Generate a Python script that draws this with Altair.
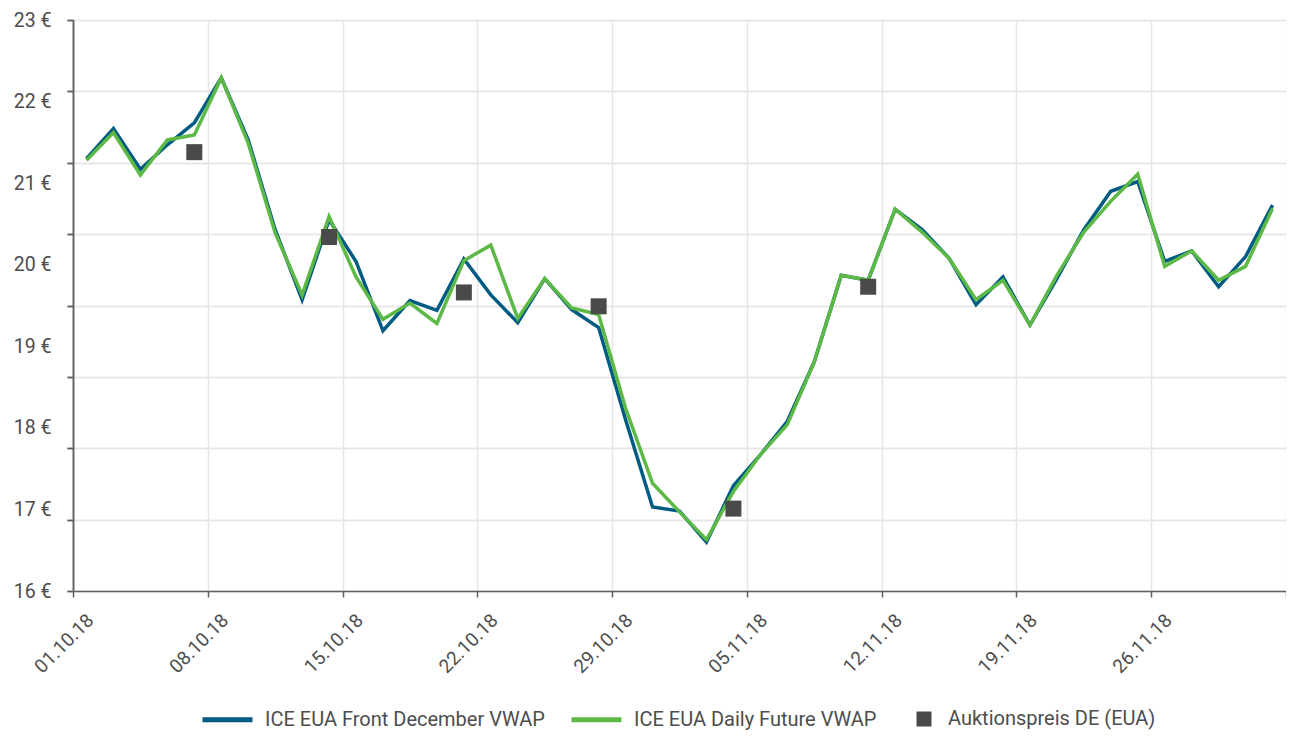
import altair as alt
import pandas as pd

# trading days (x categories)
dates = [
    "01.10.18", "02.10.18", "03.10.18", "04.10.18", "05.10.18",
    "08.10.18", "09.10.18", "10.10.18", "11.10.18", "12.10.18",
    "15.10.18", "16.10.18", "17.10.18", "18.10.18", "19.10.18",
    "22.10.18", "23.10.18", "24.10.18", "25.10.18", "26.10.18",
    "29.10.18", "30.10.18", "31.10.18", "01.11.18", "02.11.18",
    "05.11.18", "06.11.18", "07.11.18", "08.11.18", "09.11.18",
    "12.11.18", "13.11.18", "14.11.18", "15.11.18", "16.11.18",
    "19.11.18", "20.11.18", "21.11.18", "22.11.18", "23.11.18",
    "26.11.18", "27.11.18", "28.11.18", "29.11.18", "30.11.18",
]

front_december = [
    21.30, 21.67, 21.17, 21.47, 21.74, 22.29, 21.53, 20.43, 19.57, 20.55,
    20.04, 19.19, 19.56, 19.44, 20.07, 19.63, 19.29, 19.83, 19.45, 19.23,
    18.10, 17.03, 16.98, 16.60, 17.29, 17.67, 18.08, 18.81, 19.87, 19.81,
    20.68, 20.43, 20.08, 19.51, 19.85, 19.26, 19.83, 20.43, 20.90, 21.02,
    20.04, 20.17, 19.73, 20.10, 20.73,
]

daily_future = [
    21.28, 21.62, 21.10, 21.53, 21.59, 22.29, 21.49, 20.39, 19.63, 20.59,
    19.85, 19.33, 19.53, 19.28, 20.05, 20.24, 19.34, 19.83, 19.47, 19.39,
    18.24, 17.32, 16.97, 16.63, 17.22, 17.67, 18.04, 18.81, 19.87, 19.81,
    20.68, 20.40, 20.08, 19.57, 19.81, 19.26, 19.87, 20.40, 20.78, 21.11,
    19.98, 20.17, 19.81, 19.98, 20.69,
]

auction_dates = ["05.10.18", "12.10.18", "19.10.18", "26.10.18", "02.11.18", "09.11.18"]
auction_prices = [21.38, 20.34, 19.66, 19.49, 17.01, 19.73]

S_FRONT = "ICE EUA Front December VWAP"
S_DAILY = "ICE EUA Daily Future VWAP"
S_AUCT = "Auktionspreis DE (EUA)"

BLUE = "#005b83"
GREEN = "#5cb946"
GREY = "#4a4a4a"
TEXT = "#4d4d4d"
FONT = "Roboto"

rows = []
for i, d in enumerate(dates):
    rows.append({"date": d, "pos": i + 0.5, "value": front_december[i], "series": S_FRONT})
    rows.append({"date": d, "pos": i + 0.5, "value": daily_future[i], "series": S_DAILY})
lines_df = pd.DataFrame(rows)

auct_df = pd.DataFrame({
    "date": auction_dates,
    "pos": [dates.index(d) + 0.5 for d in auction_dates],
    "value": auction_prices,
    "series": [S_AUCT] * len(auction_dates),
})

n = len(dates)
tick_labels = dates[::5]
label_expr = "[" + ",".join("'%s'" % t for t in tick_labels) + "][round(datum.value/5)] || ''"

x_enc = alt.X(
    "pos:Q",
    scale=alt.Scale(domain=[0, n], nice=False, zero=False),
    axis=alt.Axis(
        values=list(range(0, n + 1, 5)),
        labelExpr=label_expr,
        title=None,
        grid=True,
        gridColor="#e6e6e6",
        gridWidth=1.5,
        domainColor="#606060",
        domainWidth=1.5,
        tickColor="#606060",
        tickWidth=1.5,
        tickSize=6,
        labelAngle=-45,
        labelAlign="right",
        labelBaseline="middle",
        labelPadding=20,
        labelOffset=17,
        labelFont=FONT,
        labelFontSize=19,
        labelColor=TEXT,
    ),
)

ymin, ymax = 16, 23
grid_vals = [ymin + (ymax - ymin) * k / 8 for k in range(9)]

y_grid_axis = alt.Axis(
    values=grid_vals,
    labels=False,
    title=None,
    grid=True,
    gridColor="#e6e6e6",
    gridWidth=1.5,
    domainColor="#606060",
    domainWidth=1.5,
    tickColor="#606060",
    tickWidth=1.5,
    tickSize=6,
    orient="left",
)
y_label_axis = alt.Axis(
    values=list(range(ymin, ymax + 1)),
    labelExpr="datum.value + ' €'",
    title=None,
    grid=False,
    domain=False,
    ticks=False,
    tickSize=0,
    labelPadding=22,
    labelFont=FONT,
    labelFontSize=19.5,
    labelColor=TEXT,
    orient="left",
)
y_scale = alt.Scale(domain=[ymin, ymax], nice=False, zero=False)

color_enc = alt.Color(
    "series:N",
    scale=alt.Scale(domain=[S_FRONT, S_DAILY], range=[BLUE, GREEN]),
    legend=alt.Legend(
        orient="none",
        legendX=127,
        legendY=672,
        direction="horizontal",
        title=None,
        symbolType="stroke",
        symbolStrokeWidth=5,
        symbolSize=2500,
        labelFont=FONT,
        labelFontSize=20,
        labelColor=TEXT,
        labelOffset=10,
        labelLimit=0,
        columnPadding=16,
        padding=0,
    ),
)

front_layer = alt.Chart(lines_df).transform_filter(
    alt.datum.series == S_FRONT
).mark_line(strokeWidth=3.5).encode(
    x=x_enc,
    y=alt.Y("value:Q", scale=y_scale, axis=y_grid_axis),
    color=color_enc,
)

daily_layer = alt.Chart(lines_df).transform_filter(
    alt.datum.series == S_DAILY
).mark_line(strokeWidth=3.5).encode(
    x=x_enc,
    y=alt.Y("value:Q", scale=y_scale, axis=y_grid_axis),
    color=color_enc,
)

auct_layer = alt.Chart(auct_df).mark_point(
    filled=True, size=256, opacity=1, color=GREY
).encode(
    x=x_enc,
    y=alt.Y("value:Q", scale=y_scale, axis=y_label_axis),
    shape=alt.Shape(
        "series:N",
        scale=alt.Scale(domain=[S_AUCT], range=["square"]),
        legend=alt.Legend(
            orient="none",
            legendX=841,
            legendY=689,
            title=None,
            symbolSize=225,
            symbolFillColor=GREY,
            symbolStrokeColor=GREY,
            symbolStrokeWidth=0,
            labelFont=FONT,
            labelFontSize=20,
            labelColor=TEXT,
            labelOffset=14,
            labelLimit=0,
            padding=0,
        ),
    ),
)

chart = alt.layer(front_layer, daily_layer, auct_layer).resolve_axis(
    y="independent"
).properties(
    width=1213,
    height=571,
    padding={"left": 65, "top": 12, "right": 0, "bottom": 139},
    autosize=alt.AutoSizeParams(type="none"),
).configure_view(stroke=None)

chart.save("out.html", embed_options={"renderer": "svg", "actions": False})
